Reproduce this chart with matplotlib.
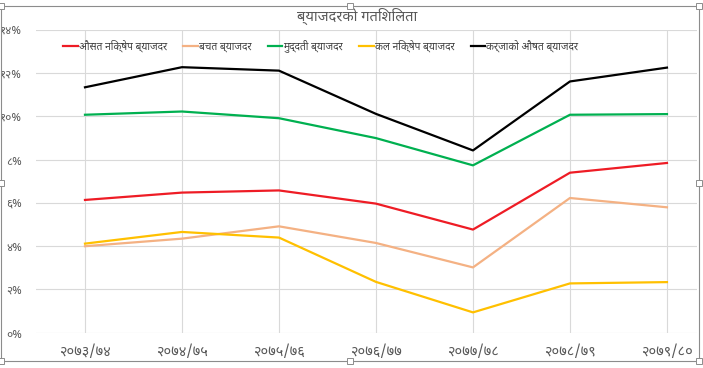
import matplotlib
matplotlib.use("Agg")
import matplotlib.pyplot as plt
from matplotlib import font_manager
from matplotlib.ft2font import FT2Font
from matplotlib.patches import Rectangle

# ---------------- data ----------------
categories = ["२०७३/७४", "२०७४/७५", "२०७५/७६", "२०७६/७७", "२०७७/७८", "२०७८/७९", "२०७९/८०"]
avg_deposit = [6.14, 6.48, 6.58, 5.97, 4.77, 7.40, 7.85]
savings = [4.00, 4.35, 4.92, 4.15, 3.02, 6.23, 5.80]
fixed = [10.08, 10.23, 9.92, 9.00, 7.74, 10.08, 10.11]
call_deposit = [4.12, 4.66, 4.40, 2.35, 0.94, 2.28, 2.34]
lending = [11.35, 12.28, 12.12, 10.12, 8.43, 11.62, 12.26]
series_names = ["औसत निक्षेप ब्याजदर", "बचत ब्याजदर", "मुद्दती ब्याजदर", "कल निक्षेप ब्याजदर", "कर्जाको औषत ब्याजदर"]
ytick_values = [0, 2, 4, 6, 8, 10, 12, 14]
ytick_labels = ["०%", "२%", "४%", "६%", "८%", "१०%", "१२%", "१४%"]
title = "ब्याजदरको गतिशिलता"

# ---------------- font selection ----------------
installed = {fe.name for fe in font_manager.fontManager.ttflist}
preferred = ["Noto Sans Devanagari", "Hind", "Mukta", "Yantramanav", "Poppins",
             "Annapurna SIL", "FreeSans", "Anek Devanagari"]
deva = next((f for f in preferred if f in installed), None)
if deva is None:
    for fe in font_manager.fontManager.ttflist:
        try:
            if 0x0915 in FT2Font(fe.fname).get_charmap():
                deva = fe.name
                break
        except Exception:
            pass
plt.rcParams["font.family"] = ([deva] if deva else []) + ["DejaVu Sans"]

# ---------------- figure ----------------
fig = plt.figure(figsize=(7.03, 3.68), dpi=100)
ax = fig.add_axes([0.0512, 0.0959, 0.9403, 0.8226])

colors = ["#EE1C25", "#F4B183", "#00B050", "#FFC000", "#000000"]
all_series = [avg_deposit, savings, fixed, call_deposit, lending]
x = list(range(len(categories)))
for vals, c, n in zip(all_series, colors, series_names):
    ax.plot(x, vals, color=c, lw=1.6, label=n, zorder=3)

ax.set_ylim(0, 14)
ax.set_xlim(-0.505, 6.31)
ax.set_yticks(ytick_values)
ax.set_yticklabels(ytick_labels)
ax.set_xticks(x)
ax.set_xticklabels(categories)
ax.tick_params(length=0, colors="#595959")
ax.tick_params(axis="y", pad=10, labelsize=8.5)
ax.tick_params(axis="x", pad=9, labelsize=10.5)
ax.grid(True, color="#D9D9D9", lw=0.8, zorder=0)
for s in ax.spines.values():
    s.set_visible(False)

leg = ax.legend(loc="upper center", bbox_to_anchor=(0.431, 1.0), ncol=5, frameon=False,
                fontsize=7.4, handlelength=1.4, handletextpad=0.1, columnspacing=1.6,
                labelcolor="#404040")

fig.text(0.508, 0.955, title, ha="center", va="center", fontsize=10.6, color="#595959")

# chart border and selection handles
fig.patches.append(Rectangle((0.002, 0.02), 0.993, 0.965, transform=fig.transFigure,
                             fill=False, ec="#8C8C8C", lw=0.8))
hw, hh = 6 / 703, 6 / 368
for (cx, cy) in [(0.002, 0.02), (0.4985, 0.02), (0.995, 0.02), (0.002, 0.985), (0.4985, 0.985),
                 (0.995, 0.985), (0.002, 0.5025), (0.995, 0.5025)]:
    fig.patches.append(Rectangle((cx - hw / 2, cy - hh / 2), hw, hh, transform=fig.transFigure,
                                 fc="white", ec="#8C8C8C", lw=0.7, zorder=10))

fig.savefig("out.png", dpi=100)
